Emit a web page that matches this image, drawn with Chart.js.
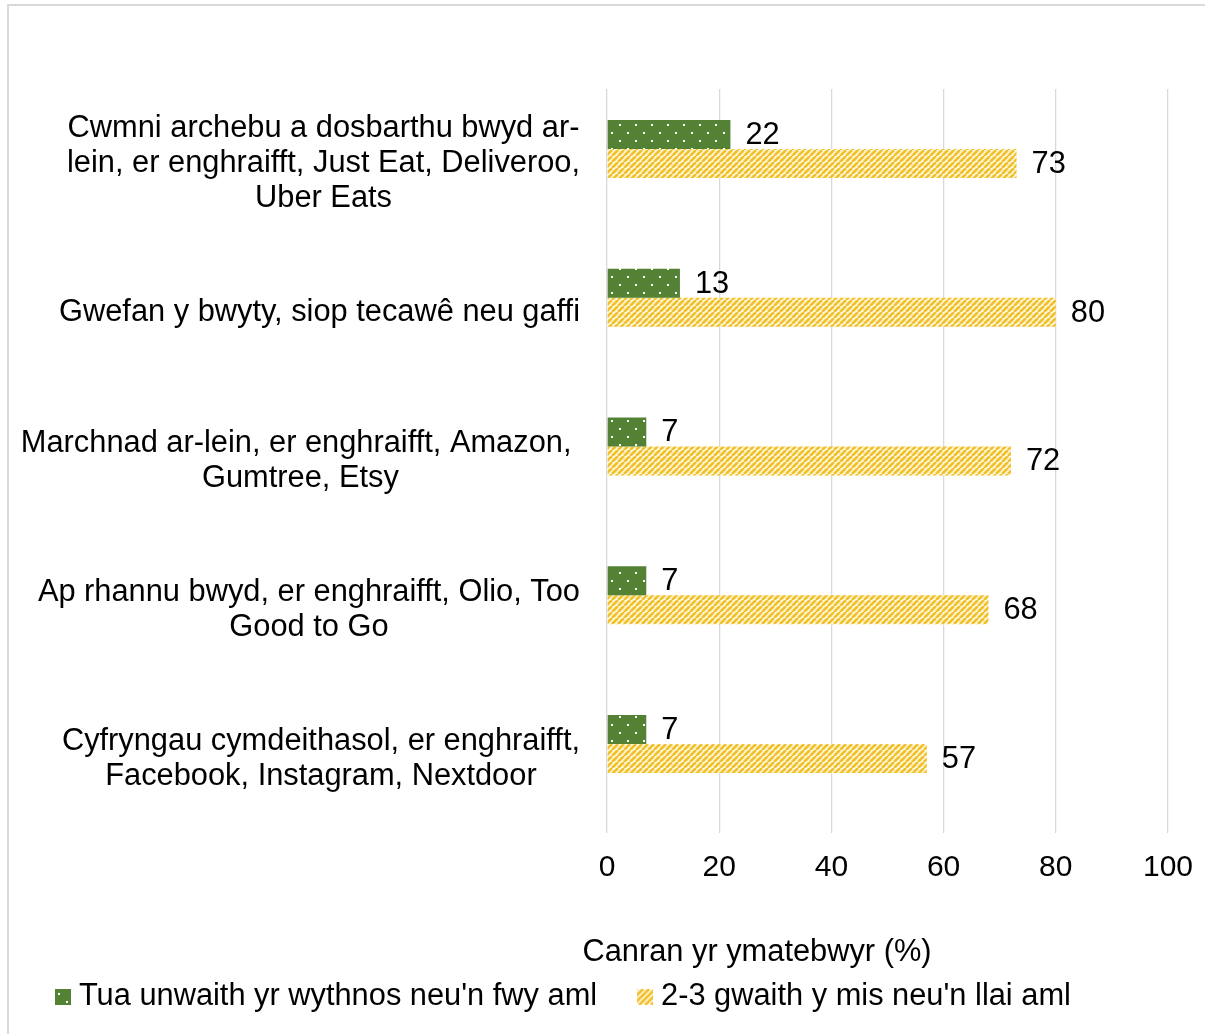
<!DOCTYPE html>
<html>
<head>
<meta charset="utf-8">
<script src="https://cdn.jsdelivr.net/npm/chart.js@4.4.1/dist/chart.umd.min.js"></script>
<style>
  html, body { margin: 0; padding: 0; background: #fff; overflow: hidden; }
  .moldura { position: absolute; left: 7px; top: 4px; width: 1300px; height: 1100px; border-left: 2px solid #d9d9d9; border-top: 2px solid #d9d9d9; }
  canvas { position: absolute; left: 0; top: 0; }
</style>
</head>
<body>
<div class="moldura"></div>
<canvas id="grafico" width="1205" height="1034"></canvas>
<script>
const categorias = [
  ['Cwmni archebu a dosbarthu bwyd ar-', 'lein, er enghraifft, Just Eat, Deliveroo,', 'Uber Eats'],
  ['Gwefan y bwyty, siop tecawê neu gaffi'],
  ['Marchnad ar-lein, er enghraifft, Amazon, ', 'Gumtree, Etsy'],
  ['Ap rhannu bwyd, er enghraifft, Olio, Too', 'Good to Go'],
  ['Cyfryngau cymdeithasol, er enghraifft,', 'Facebook, Instagram, Nextdoor']
];
const serieWythnos = [22, 13, 7, 7, 7];
const serieMis = [73, 80, 72, 68, 57];
const nomesSeries = ["Tua unwaith yr wythnos neu'n fwy aml", "2-3 gwaith y mis neu'n llai aml"];
const ticksX = [0, 20, 40, 60, 80, 100];
const tituloX = 'Canran yr ymatebwyr (%)';

const FONTE = '"Liberation Sans", Arial, sans-serif';
const TAM = 30.8;
const TAM_TICKS = 30;

const ctx = document.getElementById('grafico').getContext('2d');

function telaPontos(l, a) {
  const c = document.createElement('canvas');
  c.width = l; c.height = a;
  const g = c.getContext('2d');
  g.fillStyle = '#548235';
  g.fillRect(0, 0, l, a);
  g.fillStyle = '#ffffff';
  g.fillRect(3, 4, 2, 2);
  g.fillRect(11, 12, 2, 2);
  return c;
}

function telaListras(l, a) {
  const c = document.createElement('canvas');
  c.width = l; c.height = a;
  const g = c.getContext('2d');
  g.fillStyle = '#fffbea';
  g.fillRect(0, 0, l, a);
  g.strokeStyle = '#f2c12e';
  g.lineWidth = 2.8;
  g.beginPath();
  for (let o = -a; o <= l + a; o += 6) { g.moveTo(o, a); g.lineTo(o + a, 0); }
  g.stroke();
  return c;
}

const padraoPontos = ctx.createPattern(telaPontos(16, 16), 'repeat');
const padraoListras = ctx.createPattern(telaListras(6, 6), 'repeat');
// quadradinhos da legenda
const iconesLegenda = [telaPontos(16, 16), telaListras(16, 16)];

// rótulos do eixo y: bloco alinhado à direita, linhas centradas dentro do bloco
const rotulosCategorias = {
  id: 'rotulosCategorias',
  afterDraw(chart) {
    const { ctx, chartArea, scales: { y } } = chart;
    ctx.save();
    ctx.font = `${TAM}px ${FONTE}`;
    ctx.fillStyle = '#000';
    ctx.textAlign = 'center';
    ctx.textBaseline = 'middle';
    const direita = chartArea.left - 27;
    categorias.forEach((linhas, i) => {
      const largura = Math.max(...linhas.map((l) => ctx.measureText(l).width));
      const cx = direita - largura / 2;
      const cy = y.getPixelForValue(i);
      linhas.forEach((l, k) => ctx.fillText(l, cx, cy + (k - (linhas.length - 1) / 2) * 35));
    });
    // título do eixo x
    ctx.fillText(tituloX, chartArea.left + 150, chartArea.bottom + 120);
    ctx.restore();
  }
};

// valores ao lado de cada barra
const rotulosValores = {
  id: 'rotulosValores',
  afterDatasetsDraw(chart) {
    const { ctx } = chart;
    ctx.save();
    ctx.font = `${TAM}px ${FONTE}`;
    ctx.fillStyle = '#000';
    ctx.textAlign = 'left';
    ctx.textBaseline = 'middle';
    [0, 1].forEach((d) => {
      const valores = chart.data.datasets[d].data;
      chart.getDatasetMeta(d).data.forEach((barra, i) => {
        ctx.fillText(String(valores[i]), barra.x + 15, barra.y + 1);
      });
    });
    ctx.restore();
  }
};

new Chart(ctx, {
  type: 'bar',
  data: {
    labels: categorias.map((l) => l.join(' ')),
    datasets: [
      { label: nomesSeries[0], data: serieWythnos, backgroundColor: padraoPontos, borderWidth: 0 },
      { label: nomesSeries[1], data: serieMis, backgroundColor: padraoListras, borderWidth: 0 },
      // terceira série vazia: deixa o par de barras na parte de cima de cada faixa
      { label: '', data: [], borderWidth: 0 }
    ]
  },
  options: {
    indexAxis: 'y',
    responsive: false,
    animation: false,
    datasets: {
      bar: { barPercentage: 1, categoryPercentage: 0.585 }
    },
    layout: { padding: { top: 89, right: 37, bottom: 11.7, left: 15 } },
    scales: {
      x: {
        min: 0,
        max: 100,
        afterBuildTicks: (s) => { s.ticks = ticksX.map((v) => ({ value: v })); },
        afterFit: (s) => {
          s.height = 101;
          // só a metade do último rótulo deve avançar além da área
          s.paddingLeft = 8;
          s.paddingRight = 25;
        },
        grid: { color: '#d9d9d9', lineWidth: 1.3, drawTicks: false },
        border: { display: false },
        ticks: { color: '#000', padding: 17, font: { family: FONTE, size: TAM_TICKS } }
      },
      y: {
        afterFit: (s) => { s.width = 592; },
        grid: { display: false },
        border: { display: false },
        ticks: { display: false }
      }
    },
    plugins: {
      tooltip: { enabled: false },
      legend: {
        position: 'bottom',
        align: 'start',
        labels: {
          color: '#000',
          font: { family: FONTE, size: TAM },
          usePointStyle: true,
          pointStyleWidth: 1,
          boxHeight: 16,
          padding: 47.5,
          generateLabels: (chart) => Chart.defaults.plugins.legend.labels.generateLabels(chart)
            .filter((item) => item.datasetIndex < 2)
            .map((item) => ({ ...item, pointStyle: iconesLegenda[item.datasetIndex] }))
        }
      }
    }
  },
  plugins: [rotulosCategorias, rotulosValores]
});
</script>
</body>
</html>
